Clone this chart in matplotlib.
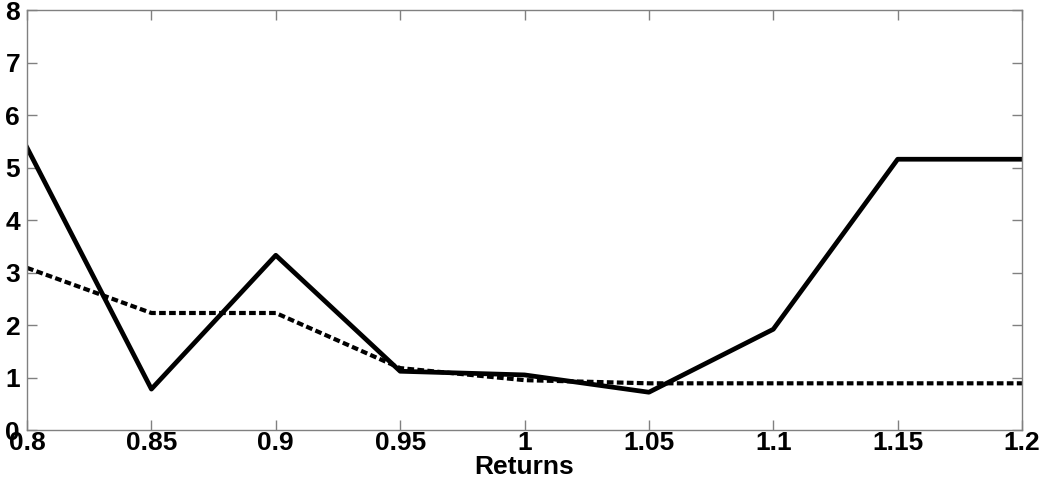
import matplotlib
matplotlib.use("Agg")
import matplotlib.pyplot as plt

returns = [0.8, 0.85, 0.9, 0.95, 1.0, 1.05, 1.1, 1.15, 1.2]
solid = [5.38, 0.78, 3.33, 1.12, 1.05, 0.72, 1.92, 5.16, 5.16]
dashed = [3.09, 2.23, 2.23, 1.18, 0.95, 0.89, 0.89, 0.89, 0.89]

plt.rcParams['font.family'] = ['Liberation Sans', 'DejaVu Sans']
plt.rcParams['font.weight'] = 'bold'

fig = plt.figure(figsize=(10.52, 4.86), dpi=100)
ax = fig.add_axes([0.0257, 0.1152, 0.9458, 0.8638])

ax.plot(returns, solid, color='black', linewidth=3.4)
ax.plot(returns, dashed, color='black', linewidth=3.0, linestyle=(0, (1.6, 0.8)))

ax.set_xlim(0.8, 1.2)
ax.set_ylim(0, 8)
ax.set_xticks(returns)
ax.set_xticklabels(['0.8', '0.85', '0.9', '0.95', '1', '1.05', '1.1', '1.15', '1.2'])
ax.set_yticks(range(9))

for s in ax.spines.values():
    s.set_color('#808080')
    s.set_linewidth(1.0)
ax.tick_params(direction='in', length=7, width=1, color='#808080',
               top=True, right=True, labelsize=19)
ax.tick_params(axis='x', pad=1)
ax.tick_params(axis='y', pad=5)
ax.set_xlabel('Returns', fontsize=19, fontweight='bold', labelpad=0)

fig.savefig('out.png', dpi=100)
